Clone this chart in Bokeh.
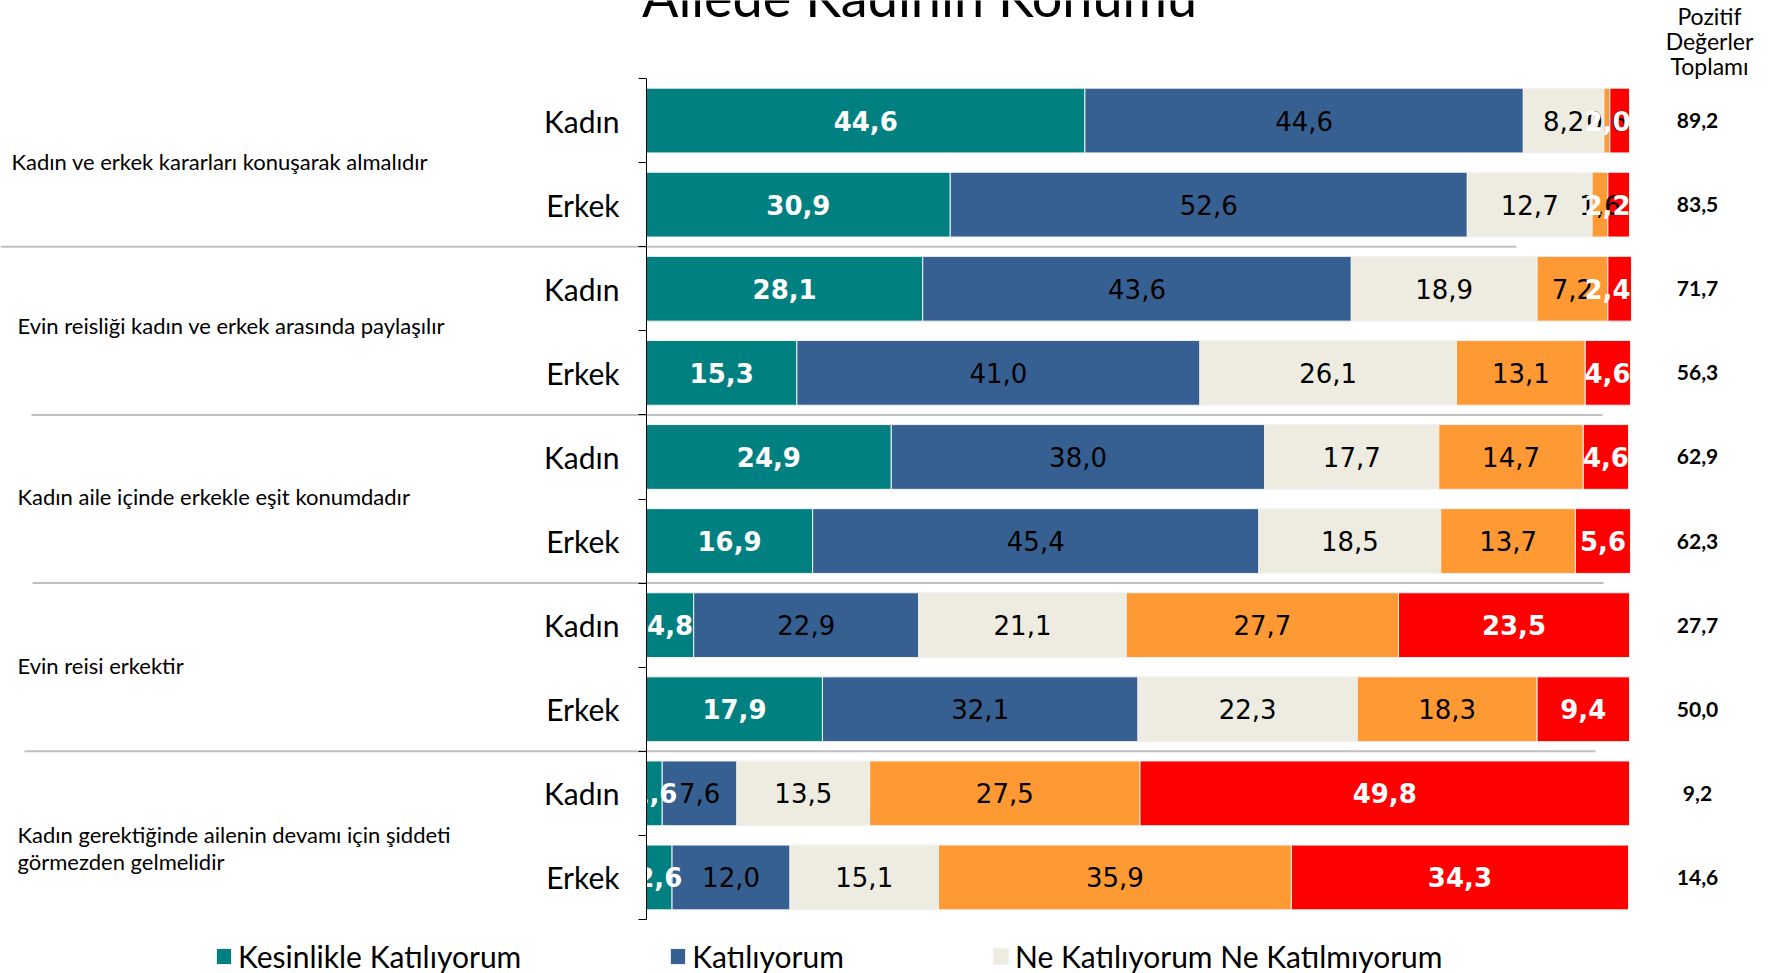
from bokeh.plotting import figure
from bokeh.models import (ColumnDataSource, Range1d, LinearAxis, FixedTicker, Legend, LegendItem)
from bokeh.core.properties import value
from bokeh.embed import file_html
from bokeh.resources import INLINE

# ---------------- data ----------------
title = "Ailede Kadının Konumu"
statements = [
    "Kadın ve erkek kararları konuşarak almalıdır",
    "Evin reisliği kadın ve erkek arasında paylaşılır",
    "Kadın aile içinde erkekle eşit konumdadır",
    "Evin reisi erkektir",
    "Kadın gerektiğinde ailenin devamı için şiddeti\ngörmezden gelmelidir",
]
genders = ["Kadın", "Erkek"]
series_names = ["Kesinlikle Katılıyorum", "Katılıyorum", "Ne Katılıyorum Ne Katılmıyorum",
                "Katılmıyorum", "Kesinlikle Katılmıyorum"]
kesinlikle_katiliyorum = [44.6, 30.9, 28.1, 15.3, 24.9, 16.9, 4.8, 17.9, 1.6, 2.6]
katiliyorum = [44.6, 52.6, 43.6, 41.0, 38.0, 45.4, 22.9, 32.1, 7.6, 12.0]
ne_katiliyorum_ne_katilmiyorum = [8.2, 12.7, 18.9, 26.1, 17.7, 18.5, 21.1, 22.3, 13.5, 15.1]
katilmiyorum = [0.6, 1.6, 7.2, 13.1, 14.7, 13.7, 27.7, 18.3, 27.5, 35.9]
kesinlikle_katilmiyorum = [2.0, 2.2, 2.4, 4.6, 4.6, 5.6, 23.5, 9.4, 49.8, 34.3]
pozitif_header = ["Pozitif", "Değerler", "Toplamı"]
pozitif_toplam = [89.2, 83.5, 71.7, 56.3, 62.9, 62.3, 27.7, 50.0, 9.2, 14.6]

# ---------------- style / layout ----------------
colors = ["#008080", "#376092", "#EEECE1", "#FF9933", "#FF0000"]
label_colors = ["white", "black", "black", "black", "white"]
label_styles = ["bold", "normal", "normal", "normal", "bold"]
LABEL_FONT = "Lato"
VAL_FONT = "DejaVu Sans"
VAL_SIZE = 26

W, H = 1784, 973
# pixel geometry of the bar area (value axis 0..100, 10 row bands)
FX0, FX1, FY0, FY1 = 646, 1629, 78, 919
PX_PER_UNIT = (FX1 - FX0) / 100.0
def dx(px):
    return (px - FX0) / PX_PER_UNIT
def dy(py):
    return (py - FY0) / (FY1 - FY0) * 10.0

def fmt(v):
    return f"{v:.1f}".replace(".", ",")

def half_width_units(text, bold):
    # approximate DejaVu Sans advance widths (em) to keep labels inside the plot area
    dw, cw = (0.696, 0.380) if bold else (0.636, 0.318)
    em = sum(cw if ch == "," else dw for ch in text)
    return em * VAL_SIZE / 2.0 / PX_PER_UNIT

n_rows = len(kesinlikle_katiliyorum)
ycent = [i + 0.5 for i in range(n_rows)]

p = figure(width=W, height=H, output_backend="svg", toolbar_location=None,
           x_range=Range1d(dx(0), dx(W)), y_range=Range1d(dy(H), dy(0)),
           x_axis_location=None, y_axis_location=None, title=None,
           min_border=0, min_border_left=0, min_border_right=0,
           min_border_top=0, min_border_bottom=0)
p.outline_line_color = None
p.background_fill_color = "white"
p.border_fill_color = "white"
for g in p.grid:
    g.visible = False

series = [kesinlikle_katiliyorum, katiliyorum, ne_katiliyorum_ne_katilmiyorum,
          katilmiyorum, kesinlikle_katilmiyorum]

right_limit = dx(1630)
left = [0.0] * n_rows
bar_renderers = []
label_sources = []
for k, vals in enumerate(series):
    right = [l + v for l, v in zip(left, vals)]
    src = ColumnDataSource(dict(y=ycent, left=left, right=right))
    r = p.hbar(y="y", left="left", right="right", height=0.77, source=src,
               fill_color=colors[k], line_color="#F2F2F2", line_width=1)
    bar_renderers.append(r)
    labs = [fmt(v) for v in vals]
    bold = label_styles[k] == "bold"
    xs = []
    for l, rr, t in zip(left, right, labs):
        m = (l + rr) / 2
        hw = half_width_units(t, bold)
        xs.append(min(m, right_limit - hw))
    label_sources.append(ColumnDataSource(dict(x=xs, y=ycent, lab=labs)))
    left = right

# value labels
for k, lsrc in enumerate(label_sources):
    p.text(x="x", y="y", text="lab", source=lsrc, text_align="center",
           text_baseline="middle", text_color=label_colors[k],
           text_font=value(VAL_FONT), text_font_size=f"{VAL_SIZE}px",
           text_font_style=label_styles[k])
# labels are clipped at the category axis, as in the original
p.quad(left=[dx(560)], right=[0], bottom=[n_rows], top=[0],
       fill_color="white", line_color=None)

# group separators
sep_y = [2, 4, 6, 8]
sep_px = [(0, 1516), (31, 1602), (32, 1603), (24, 1595)]
p.segment(x0=[dx(a) for a, _ in sep_px], x1=[dx(b) for _, b in sep_px],
          y0=sep_y, y1=sep_y, line_color="#C0C0C0", line_width=2)

# category axis at value 0 with Kadın / Erkek labels, ticks at band boundaries
ax = LinearAxis(
    fixed_location=0, bounds=(0, n_rows),
    ticker=FixedTicker(ticks=ycent, minor_ticks=list(range(n_rows + 1))),
    major_label_overrides={c: genders[i % 2] for i, c in enumerate(ycent)},
    major_tick_out=0, major_tick_in=0, major_tick_line_color=None,
    minor_tick_out=8, minor_tick_in=0, minor_tick_line_color="black",
    axis_line_color="black", axis_line_width=1,
    major_label_standoff=19,
    major_label_text_font=LABEL_FONT, major_label_text_font_size="30px",
    major_label_text_color="black")
p.add_layout(ax, "left")

# statement labels (left)
st_text, st_x, st_y = [], [], []
st_pos = [[(11, 161)], [(17, 325)], [(17, 496)], [(17, 665)], [(17, 834), (17, 861)]]
for s, pos in zip(statements, st_pos):
    for line, (px, py) in zip(s.split("\n"), pos):
        st_text.append(line)
        st_x.append(dx(px))
        st_y.append(dy(py))
p.text(x="x", y="y", text="t", source=ColumnDataSource(dict(x=st_x, y=st_y, t=st_text)),
       text_align="left", text_baseline="middle", text_color="black",
       text_font=value(LABEL_FONT), text_font_size="22px")

# totals (right)
p.text(x="x", y="y", text="t",
       source=ColumnDataSource(dict(x=[dx(1697)] * n_rows, y=ycent,
                                    t=[fmt(v) for v in pozitif_toplam])),
       text_align="center", text_baseline="middle", text_color="black",
       text_font=value(LABEL_FONT), text_font_size="21px", text_font_style="bold")
p.text(x=[dx(1709)] * 3, y=[dy(15), dy(40), dy(65)], text=pozitif_header,
       text_align="center", text_baseline="middle", text_color="black",
       text_font=value(LABEL_FONT), text_font_size="23px")

# title (cut at the top as in the reference)
p.text(x=[dx(919)], y=[dy(-4)], text=[title], text_align="center",
       text_baseline="middle", text_color="black",
       text_font=value(LABEL_FONT), text_font_size="54px")

legend = Legend(items=[LegendItem(label=series_names[k], renderers=[bar_renderers[k]])
                       for k in range(3)],
                orientation="horizontal", location=(214, -1), spacing=147,
                label_standoff=5, glyph_width=19, glyph_height=20, padding=0, margin=0,
                border_line_alpha=0, background_fill_alpha=0,
                label_text_font=LABEL_FONT, label_text_font_size="30px",
                label_text_color="black")
p.add_layout(legend)

open("out.html", "w").write(file_html(p, INLINE))
